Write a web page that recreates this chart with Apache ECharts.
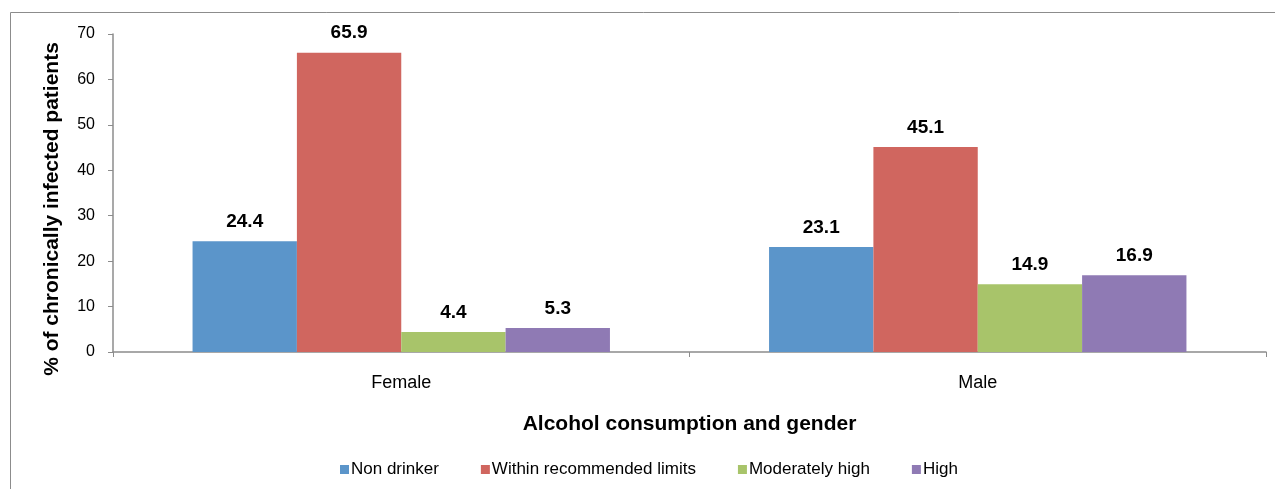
<!DOCTYPE html>
<html>
<head>
<meta charset="utf-8">
<script src="https://cdn.jsdelivr.net/npm/echarts@6/dist/echarts.min.js"></script>
<style>
html, body { margin: 0; padding: 0; background: #fff; }
#chart { width: 1275px; height: 489px; }
</style>
</head>
<body>
<div id="chart"></div>
<script>
const categories = ['Female', 'Male'];
const seriesNames = ['Non drinker', 'Within recommended limits', 'Moderately high', 'High'];
const nonDrinker = [24.4, 23.1];
const withinLimits = [65.9, 45.1];
const moderatelyHigh = [4.4, 14.9];
const high = [5.3, 16.9];
const yTicks = [0, 10, 20, 30, 40, 50, 60, 70];

const colors = ['#5B95CA', '#D0665F', '#A8C46A', '#8F7AB4'];
const values = [nonDrinker, withinLimits, moderatelyHigh, high];
const font = 'Liberation Sans, Arial, sans-serif';

const chart = echarts.init(document.getElementById('chart'));
chart.setOption({
  animation: false,
  color: colors,
  textStyle: { fontFamily: font },
  graphic: [{
    type: 'rect',
    shape: { x: 10.5, y: 12.5, width: 1400, height: 700 },
    style: { fill: 'none', stroke: '#8c8c8c', lineWidth: 1 },
    silent: true
  }],
  grid: { left: 113, right: 9, top: 34, bottom: 137 },
  legend: {
    top: 456,
    left: 335,
    itemWidth: 9,
    itemHeight: 9,
    itemGap: 42,
    icon: 'rect',
    textStyle: { fontSize: 17, color: '#000', fontFamily: font, padding: [0, 0, 0, -3] },
    data: seriesNames
  },
  xAxis: {
    type: 'category',
    data: categories,
    name: 'Alcohol consumption and gender',
    nameLocation: 'middle',
    nameGap: 62,
    nameTextStyle: { fontSize: 21, fontWeight: 'bold', color: '#000', fontFamily: font },
    axisLine: { lineStyle: { color: '#8c8c8c', width: 1.5 } },
    axisTick: { show: true, length: 5, lineStyle: { color: '#8c8c8c' } },
    axisLabel: { fontSize: 18, color: '#000', margin: 22, fontFamily: font }
  },
  yAxis: {
    type: 'value',
    min: yTicks[0],
    max: yTicks[yTicks.length - 1],
    interval: 10,
    name: '% of chronically infected patients',
    nameLocation: 'middle',
    nameGap: 50,
    nameRotate: 90,
    nameTextStyle: { fontSize: 21, fontWeight: 'bold', color: '#000', fontFamily: font, padding: [0, 32, 0, 0] },
    axisLine: { show: true, lineStyle: { color: '#8c8c8c', width: 1.5 } },
    axisTick: { show: true, length: 5, lineStyle: { color: '#8c8c8c' } },
    splitLine: { show: false },
    axisLabel: { fontSize: 16, color: '#000', margin: 18, fontFamily: font }
  },
  series: seriesNames.map((name, i) => ({
    name: name,
    type: 'bar',
    data: values[i],
    barGap: '0%',
    barCategoryGap: '27.6%',
    itemStyle: { color: colors[i] },
    label: {
      show: true,
      position: 'top',
      distance: 10,
      fontSize: 19,
      fontWeight: 'bold',
      color: '#000',
      fontFamily: font,
      formatter: p => p.value.toFixed(1)
    }
  }))
});
</script>
</body>
</html>
